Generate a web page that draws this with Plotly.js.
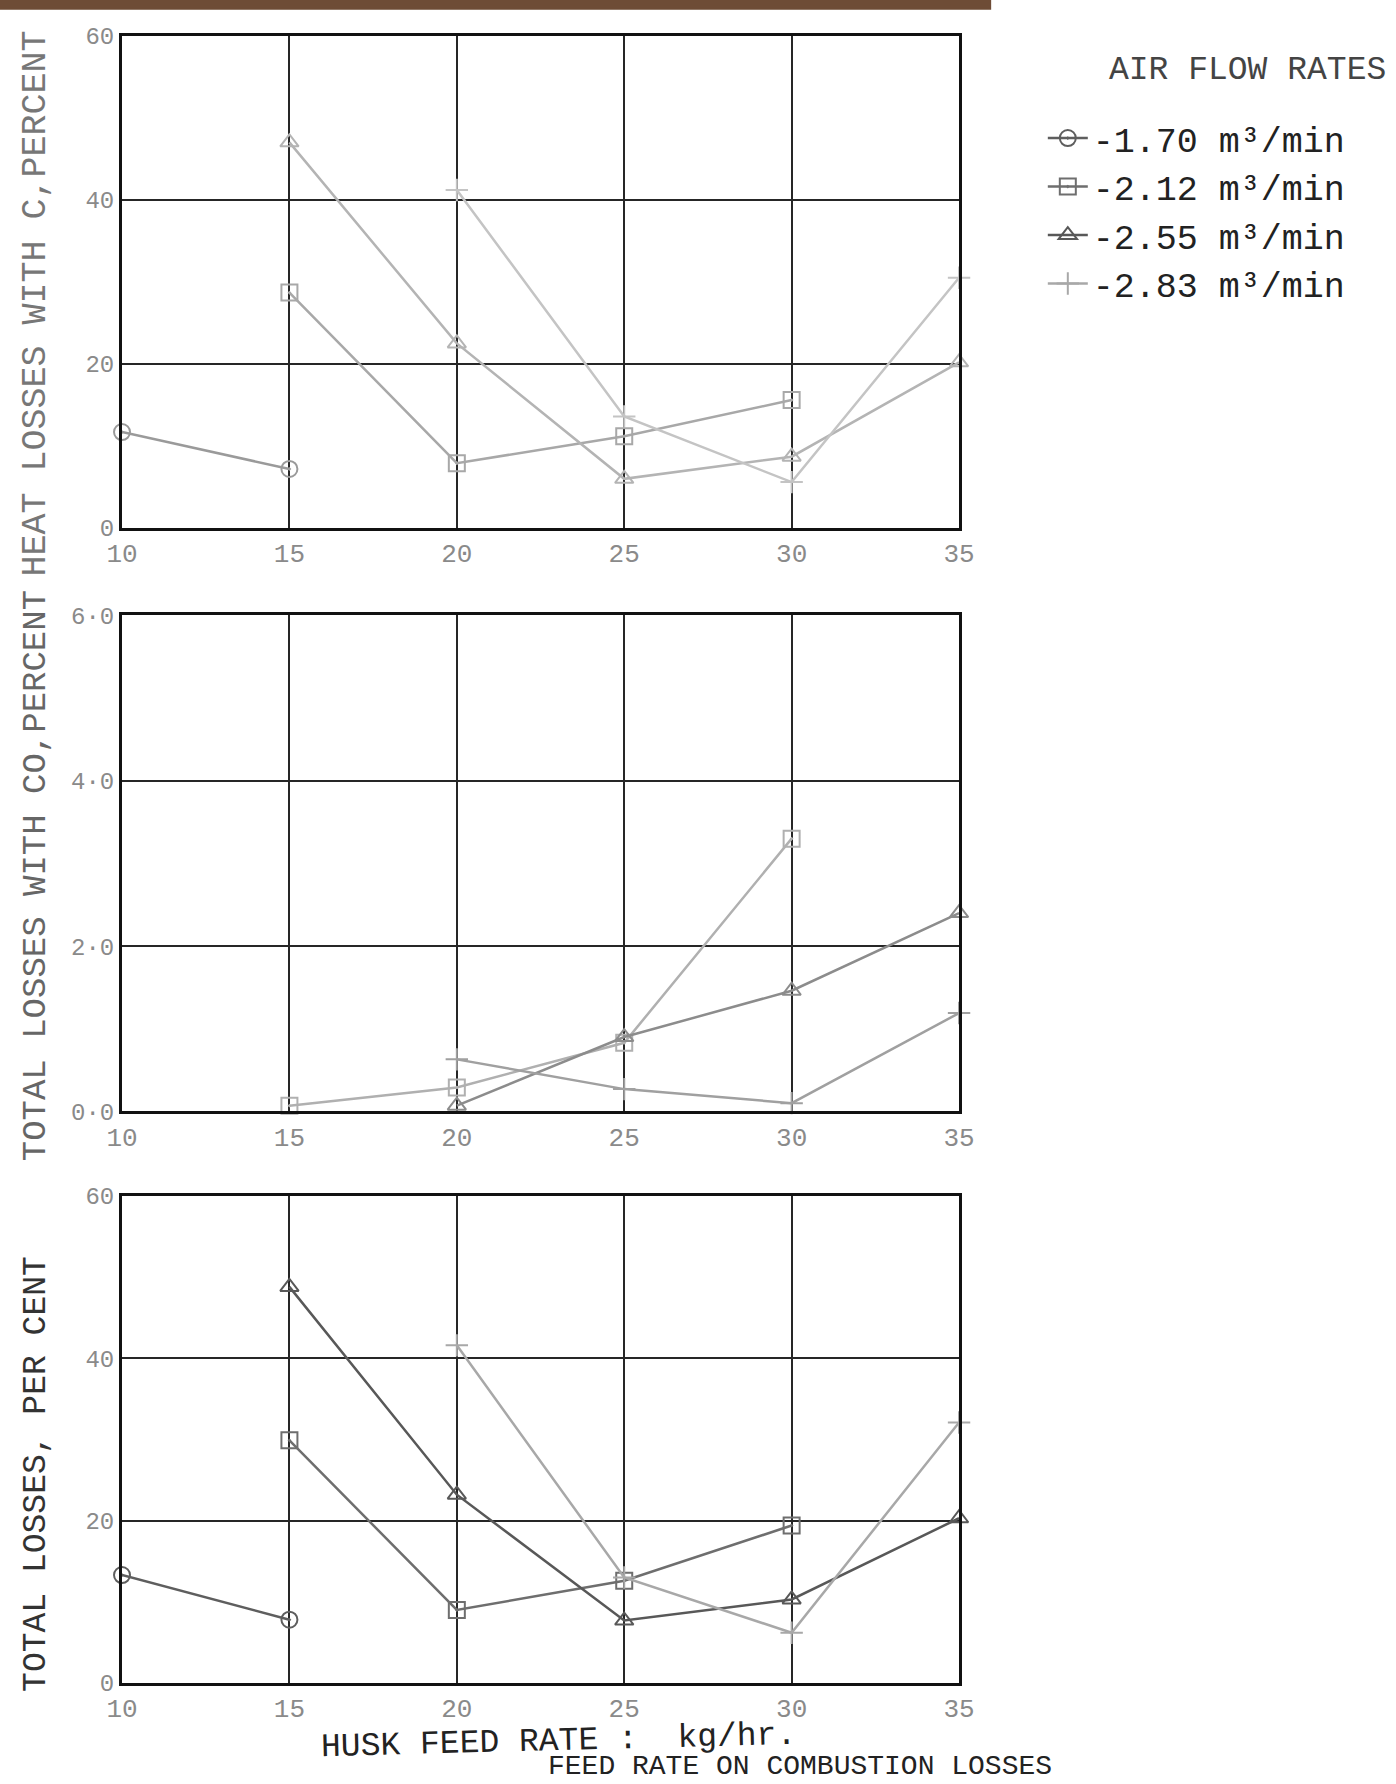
<!DOCTYPE html>
<html><head><meta charset="utf-8">
<script src="https://cdn.plot.ly/plotly-3.0.1.min.js"></script>
<style>html,body{margin:0;padding:0;background:#fff}</style>
</head><body>
<div id="chart" style="width:1396px;height:1784px"></div>
<script>
// ---- data ----
const feedRates = [10, 15, 20, 25, 30, 35];
const seriesNames = ['-1.70 m³/min', '-2.12 m³/min', '-2.55 m³/min', '-2.83 m³/min'];

// heat losses with C, percent
const heatC170 = [11.7, 7.2, null, null, null, null];
const heatC212 = [null, 28.7, 7.9, 11.2, 15.6, null];
const heatC255 = [null, 47.0, 22.5, 6.0, 8.7, 20.2];
const heatC283 = [null, null, 41.2, 13.6, 5.6, 30.5];

// losses with CO, percent
const lossCO170 = [null, null, null, null, null, null];
const lossCO212 = [null, 0.07, 0.29, 0.83, 3.3, null];
const lossCO255 = [null, null, 0.07, 0.9, 1.46, 2.4];
const lossCO283 = [null, null, 0.63, 0.27, 0.1, 1.19];

// total losses, per cent
const total170 = [13.3, 7.8, null, null, null, null];
const total212 = [null, 29.9, 9.0, 12.6, 19.4, null];
const total255 = [null, 48.8, 23.2, 7.7, 10.3, 20.3];
const total283 = [null, null, 41.6, 13.0, 6.2, 32.1];

const yTicksPct = [0, 20, 40, 60];
const yTicksCO = [0, 2, 4, 6];
const yTickTextCO = ['0·0', '2·0', '4·0', '6·0'];

// ---- styling ----
const FONT = '"Liberation Mono", "Courier New", "DejaVu Sans Mono", monospace';
const symbols = ['circle-open-dot', 'square-open-dot', 'triangle-up-open', 'cross-thin-open'];

const panels = [
  {xa: 'x',  ya: 'y',  data: [heatC170, heatC212, heatC255, heatC283], colors: ['#9a9a9a', '#a8a8a8', '#b4b4b4', '#c4c4c4'], legend: false},
  {xa: 'x2', ya: 'y2', data: [lossCO170, lossCO212, lossCO255, lossCO283], colors: ['#9a9a9a', '#b0b0b0', '#8c8c8c', '#a0a0a0'], legend: false},
  {xa: 'x3', ya: 'y3', data: [total170, total212, total255, total283], colors: ['#5e5e5e', '#6e6e6e', '#585858', '#a8a8a8'], legend: true}
];

const traces = [];
panels.forEach(p => {
  p.data.forEach((vals, i) => {
    if (vals.every(v => v === null)) return;
    traces.push({
      type: 'scatter', mode: 'lines+markers',
      x: feedRates, y: vals, xaxis: p.xa, yaxis: p.ya,
      name: seriesNames[i], showlegend: p.legend,
      cliponaxis: false,
      line: {color: p.colors[i], width: 2.5},
      marker: {symbol: symbols[i], size: 16, color: p.colors[i], line: {width: 2, color: p.colors[i]}}
    });
  });
});

const xDom = [0.0874, 0.687];
function xax(anchor) {
  return {domain: xDom, anchor: anchor, range: [10, 35], tickvals: feedRates,
    showgrid: true, gridcolor: '#262626', gridwidth: 2, zeroline: false,
    showline: true, mirror: true, linecolor: '#111', linewidth: 3, ticks: '',
    tickfont: {family: FONT, size: 26, color: '#8a8a8a'}};
}
function yax(anchor, dom, range, vals, text) {
  const a = {domain: dom, anchor: anchor, range: range, tickvals: vals,
    showgrid: true, gridcolor: '#262626', gridwidth: 2, zeroline: false,
    showline: true, mirror: true, linecolor: '#111', linewidth: 3, ticks: '',
    tickfont: {family: FONT, size: 24, color: '#8a8a8a'}};
  if (text) a.ticktext = text;
  return a;
}

function vtitle(text, y, size, color) {
  return {text: text, xref: 'paper', yref: 'paper', x: 0.026, y: y,
    xanchor: 'center', yanchor: 'middle', textangle: -90, showarrow: false,
    font: {family: FONT, size: size, color: color}};
}

const layout = {
  width: 1396, height: 1784,
  margin: {l: 0, r: 0, t: 0, b: 0},
  paper_bgcolor: '#fff', plot_bgcolor: '#fff',
  font: {family: FONT, color: '#333'},
  xaxis: xax('y'),
  yaxis: yax('x', [0.704, 0.980], [0, 60], yTicksPct),
  xaxis2: xax('y2'),
  yaxis2: yax('x2', [0.377, 0.655], [0, 6], yTicksCO, yTickTextCO),
  xaxis3: xax('y3'),
  yaxis3: yax('x3', [0.0566, 0.3296], [0, 60], yTicksPct),
  legend: {x: 0.747, y: 0.939, xanchor: 'left', yanchor: 'top', bgcolor: 'rgba(0,0,0,0)',
    tracegroupgap: 0, font: {family: FONT, size: 35, color: '#222'}, itemwidth: 40},
  shapes: [
    {type: 'rect', xref: 'paper', yref: 'paper', x0: 0, x1: 0.71, y0: 0.9945, y1: 1,
     fillcolor: '#6e4c36', line: {width: 0}}
  ],
  annotations: [
    {text: 'AIR FLOW RATES', xref: 'paper', yref: 'paper', x: 0.8935, y: 0.9605,
     xanchor: 'center', yanchor: 'middle', showarrow: false,
     font: {family: FONT, size: 33, color: '#444'}},
    vtitle('HEAT LOSSES WITH C,PERCENT', 0.83, 35, '#777'),
    vtitle('TOTAL LOSSES WITH CO,PERCENT', 0.509, 34, '#666'),
    vtitle('TOTAL LOSSES, PER CENT', 0.174, 33, '#333'),
    {text: 'HUSK FEED RATE :  kg/hr.', xref: 'paper', yref: 'paper', x: 0.40, y: 0.0241,
     xanchor: 'center', yanchor: 'middle', textangle: -1.5, showarrow: false,
     font: {family: FONT, size: 33, color: '#222'}},
    {text: 'FEED RATE ON COMBUSTION LOSSES', xref: 'paper', yref: 'paper', x: 0.755, y: 0.0,
     xanchor: 'right', yanchor: 'bottom', showarrow: false,
     font: {family: FONT, size: 28, color: '#222'}}
  ]
};

Plotly.newPlot('chart', traces, layout, {displayModeBar: false, staticPlot: true});
</script>
</body></html>
